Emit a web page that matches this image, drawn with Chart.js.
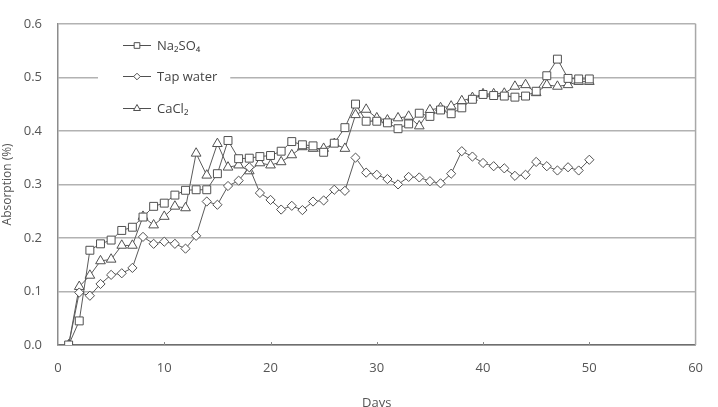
<!DOCTYPE html>
<html>
<head>
<meta charset="utf-8">
<script src="https://cdn.jsdelivr.net/npm/chart.js@4/dist/chart.umd.min.js"></script>
<style>
html,body{margin:0;padding:0;background:#fff;}
#wrap{width:718px;height:407px;position:relative;}
</style>
</head>
<body>
<div id="wrap"><canvas id="c" width="718" height="407"></canvas></div>
<script>
// ---- data ----
const days = [1,2,3,4,5,6,7,8,9,10,11,12,13,14,15,16,17,18,19,20,21,22,23,24,25,26,27,28,29,30,31,32,33,34,35,36,37,38,39,40,41,42,43,44,45,46,47,48,49,50];
const na2so4 = [0,0.045,0.177,0.189,0.196,0.214,0.22,0.239,0.259,0.265,0.28,0.289,0.29,0.29,0.32,0.382,0.348,0.349,0.352,0.354,0.362,0.38,0.374,0.372,0.36,0.377,0.406,0.45,0.418,0.418,0.415,0.404,0.413,0.433,0.427,0.439,0.432,0.443,0.459,0.468,0.466,0.465,0.463,0.465,0.474,0.503,0.534,0.498,0.497,0.497];
const tapWater = [0,0.098,0.092,0.114,0.131,0.134,0.144,0.202,0.189,0.193,0.189,0.18,0.204,0.268,0.262,0.297,0.307,0.332,0.284,0.271,0.253,0.26,0.252,0.268,0.27,0.29,0.288,0.35,0.322,0.318,0.31,0.3,0.314,0.313,0.306,0.302,0.32,0.362,0.352,0.34,0.334,0.33,0.316,0.318,0.342,0.334,0.326,0.332,0.326,0.346];
const cacl2 = [0,0.109,0.13,0.157,0.16,0.186,0.186,0.24,0.224,0.24,0.259,0.256,0.358,0.317,0.376,0.332,0.336,0.325,0.34,0.336,0.342,0.355,0.37,0.367,0.367,0.376,0.367,0.43,0.44,0.424,0.42,0.424,0.427,0.409,0.439,0.443,0.446,0.456,0.462,0.469,0.469,0.47,0.483,0.486,0.471,0.486,0.483,0.486,0.492,0.492];
const seriesNames = ['Na\u2082SO\u2084', 'Tap water', 'CaCl\u2082'];
const xTicks = [0,10,20,30,40,50,60];
const yTicks = [0,0.1,0.2,0.3,0.4,0.5,0.6];
const xTitle = 'Days';
const yTitle = 'Absorption (%)';

const FONT = '"Open Sans", "DejaVu Sans", sans-serif';
const INK = '#555555';
const FS = 13;

function pts(vals){ return days.map((d,i)=>({x:d, y:vals[i]})); }

const styles = [
  {pointStyle:'rect', pointRadius:5.6},
  {pointStyle:'rectRot', pointRadius:4.6},
  {pointStyle:'triangle', pointRadius:5.6}
];
const seriesVals = [na2so4, tapWater, cacl2];

const datasets = seriesVals.map((v,i)=>({
  label: seriesNames[i],
  data: pts(v),
  borderColor: '#5a5a5a',
  borderWidth: 1,
  backgroundColor: '#ffffff',
  pointBackgroundColor: '#ffffff',
  pointBorderColor: '#505050',
  pointBorderWidth: 1,
  pointStyle: styles[i].pointStyle,
  pointRadius: styles[i].pointRadius,
  tension: 0,
  fill: false
}));

const framePlugin = {
  id: 'frame',
  beforeDatasetsDraw(chart){
    const {ctx, chartArea:a, scales} = chart;
    ctx.save();
    ctx.strokeStyle = '#a8a8a8';
    ctx.lineWidth = 1.5;
    ctx.beginPath();
    ctx.moveTo(a.right, a.top);
    ctx.lineTo(a.right, a.bottom);
    ctx.stroke();
    ctx.strokeStyle = '#888';
    ctx.lineWidth = 1;
    xTicks.forEach(v=>{
      if (v === xTicks[0] || v === xTicks[xTicks.length-1]) return;
      const x = Math.round(scales.x.getPixelForValue(v)) + 0.5;
      ctx.beginPath();
      ctx.moveTo(x, a.bottom);
      ctx.lineTo(x, a.bottom - 3);
      ctx.stroke();
    });
    ctx.restore();
  }
};

const legendPlugin = {
  id: 'customLegend',
  afterDraw(chart){
    const ctx = chart.ctx;
    const rows = [45, 76, 108];
    chart.data.datasets.forEach((ds,i)=>{
      const y = rows[i];
      ctx.save();
      ctx.font = FS + 'px ' + FONT;
      const tw = ctx.measureText(ds.label).width;
      const tx = 157;
      ctx.fillStyle = '#ffffff';
      ctx.fillRect(98, y-14, tx + tw + 13 - 98, 28);
      ctx.strokeStyle = '#505050';
      ctx.lineWidth = 1;
      ctx.beginPath();
      ctx.moveTo(123, y + 0.5);
      ctx.lineTo(151, y + 0.5);
      ctx.stroke();
      ctx.fillStyle = '#ffffff';
      const r = ds.pointStyle === 'rectRot' ? 3.3 : 4;
      if (Chart.helpers && Chart.helpers.drawPoint) {
        Chart.helpers.drawPoint(ctx, {pointStyle: ds.pointStyle, radius: r, borderWidth: 1, rotation: 0}, 137, y + 0.5);
      }
      ctx.fillStyle = '#444';
      ctx.textBaseline = 'middle';
      ctx.textAlign = 'left';
      ctx.fillText(ds.label, tx, y + 1);
      ctx.restore();
    });
  }
};

new Chart(document.getElementById('c'), {
  type: 'line',
  data: { datasets },
  plugins: [framePlugin, legendPlugin],
  options: {
    responsive: false,
    animation: false,
    devicePixelRatio: 1,
    layout: { padding: { top: 10, right: 11, left: 0, bottom: 0 } },
    plugins: { legend: { display: false }, tooltip: { enabled: false } },
    scales: {
      x: {
        type: 'linear',
        min: xTicks[0],
        max: xTicks[xTicks.length-1],
        afterBuildTicks: s => { s.ticks = xTicks.map(v=>({value:v})); },
        afterFit: s => { s.height = 62; },
        grid: { display: false, drawTicks: false },
        border: { display: true, color: '#6e6e6e', width: 1.5 },
        ticks: { padding: 15, color: INK, font: { family: FONT, size: FS }, maxRotation: 0, autoSkip: false },
        title: { display: true, text: xTitle, color: INK, font: { family: FONT, size: FS }, padding: { top: 0, bottom: -4 } }
      },
      y: {
        type: 'linear',
        min: yTicks[0],
        max: yTicks[yTicks.length-1],
        afterBuildTicks: s => { s.ticks = yTicks.map(v=>({value:v})); },
        afterFit: s => { s.width = 58; },
        grid: { color: '#b2b2b2', lineWidth: 1.5, drawTicks: false },
        border: { display: true, color: '#8c8c8c', width: 1.5 },
        ticks: { padding: 16, color: INK, font: { family: FONT, size: FS }, callback: v => Number(v).toFixed(1) },
        title: { display: true, text: yTitle, color: INK, font: { family: FONT, size: 12 }, padding: { top: 0, bottom: 0 } }
      }
    }
  }
});
</script>
</body>
</html>
